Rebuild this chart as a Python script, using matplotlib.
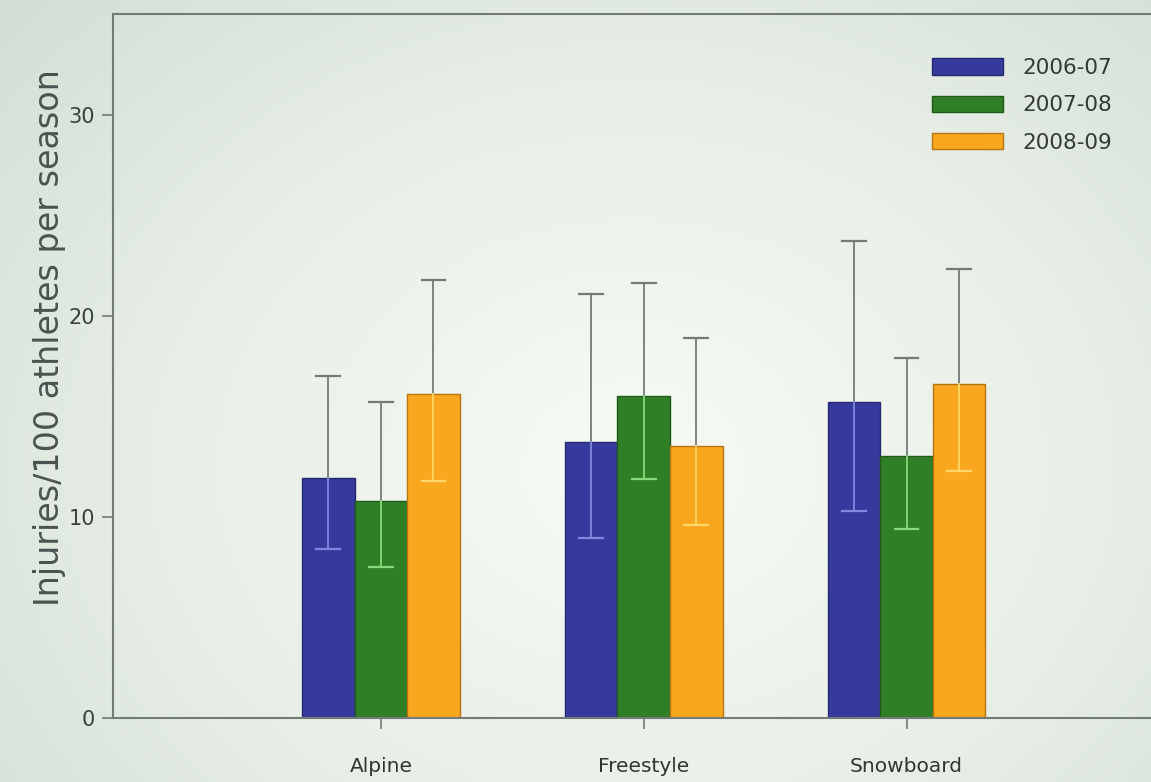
import numpy as np
import matplotlib
matplotlib.use("Agg")
import matplotlib.pyplot as plt
from matplotlib.colors import LinearSegmentedColormap

# injury rates per discipline and season, with asymmetric 95% CI bounds
disciplines = ["Alpine", "Freestyle", "Snowboard"]
seasons = ["2006-07", "2007-08", "2008-09"]

rate_0607 = [11.95, 13.7, 15.7]
rate_0708 = [10.8, 16.0, 13.0]
rate_0809 = [16.1, 13.5, 16.6]

upper_0607 = [17.0, 21.1, 23.7]
upper_0708 = [15.7, 21.65, 17.9]
upper_0809 = [21.8, 18.9, 22.3]

lower_0607 = [8.4, 8.95, 10.3]
lower_0708 = [7.5, 11.9, 9.4]
lower_0809 = [11.8, 9.6, 12.3]

bar_colors = ["#363a9c", "#2f7f27", "#f9a71f"]
inner_err_colors = ["#8088e0", "#86d878", "#ffd86a"]
edge_colors = ["#262a70", "#1f5a1a", "#b87410"]

rates = [rate_0607, rate_0708, rate_0809]
uppers = [upper_0607, upper_0708, upper_0809]
lowers = [lower_0607, lower_0708, lower_0809]

fig = plt.figure(figsize=(11.51, 7.82), dpi=100)

# soft projector-style light falloff behind the chart
bg = fig.add_axes([0, 0, 1, 1], zorder=-10)
gx, gy = np.meshgrid(np.linspace(0, 1, 300), np.linspace(0, 1, 200))
dist = np.sqrt(((gx - 0.55) / 0.8) ** 2 + ((gy - 0.40) / 0.95) ** 2)
shade = LinearSegmentedColormap.from_list("shade", ["#f7fbf5", "#e8efe6", "#cfdcd3"])
bg.imshow(np.clip(dist, 0, 1), cmap=shade, aspect="auto", extent=[0, 1, 0, 1],
          origin="lower", vmin=0, vmax=1)
bg.axis("off")

ax = fig.add_axes([0.098, 0.082, 0.902, 0.90])
ax.patch.set_alpha(0)

x = np.arange(len(disciplines))
width = 0.2
grey = "#737b78"

for i in range(3):
    xpos = x + (i - 1) * width
    ax.bar(xpos, rates[i], width, color=bar_colors[i], edgecolor=edge_colors[i],
           linewidth=1.0, label=seasons[i], zorder=2)
    for xp, r, up, lo in zip(xpos, rates[i], uppers[i], lowers[i]):
        # part of the interval above the bar
        ax.plot([xp, xp], [r, up], color=grey, lw=1.3, zorder=3)
        ax.plot([xp - 0.045, xp + 0.045], [up, up], color=grey, lw=1.6, zorder=3)
        # part inside the bar
        ax.plot([xp, xp], [lo, r], color=inner_err_colors[i], lw=1.3, zorder=3)
        ax.plot([xp - 0.045, xp + 0.045], [lo, lo], color=inner_err_colors[i],
                lw=1.6, zorder=3)

ax.set_xlim(-1.02, 2.93)
ax.set_ylim(0, 35)
ax.set_yticks([0, 10, 20, 30])
ax.set_xticks(x)
ax.set_xticklabels(disciplines)

ax.spines["right"].set_visible(False)
for s in ["left", "top", "bottom"]:
    ax.spines[s].set_color(grey)
    ax.spines[s].set_linewidth(1.5)

ax.tick_params(axis="y", direction="out", length=8, width=1.2, color=grey,
               labelsize=15, labelcolor="#3a413e", pad=5)
ax.tick_params(axis="x", direction="out", length=8, width=1.2, color=grey,
               labelsize=14.5, labelcolor="#2f3532", pad=20)

ax.set_ylabel("Injuries/100 athletes per season", fontsize=24, color="#4a5350")
ax.yaxis.set_label_coords(-0.045, 0.54)

leg = ax.legend(loc="upper right", bbox_to_anchor=(0.981, 0.965), frameon=False,
                fontsize=15.5, handlelength=3.3, handleheight=0.8,
                labelspacing=0.8, handletextpad=0.9)
for t in leg.get_texts():
    t.set_color("#333a37")

fig.savefig("out.png", dpi=100)
